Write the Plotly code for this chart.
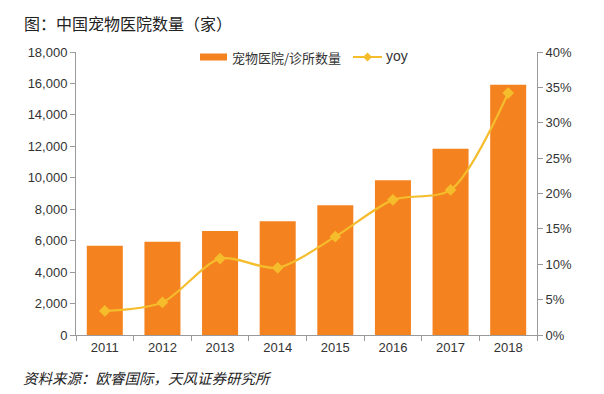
import plotly.graph_objects as go

years = ["2011", "2012", "2013", "2014", "2015", "2016", "2017", "2018"]
hospitals = [5680, 5930, 6610, 7230, 8250, 9840, 11850, 15920]
yoy = [0.034, 0.046, 0.108, 0.095, 0.139, 0.191, 0.205, 0.342]

font_family = "Liberation Sans, Arial, Noto Sans CJK SC, sans-serif"
cjk = "Noto Sans CJK SC, sans-serif"
axis_color = "#9a9a9a"
text_color = "#333333"
bar_color = "#F4821F"
line_color = "#F5BC2C"

W, H = 596, 386
L, R, T, B = 68, 67, 44, 59
PW, PH = W - L - R, H - T - B


def px(x):
    return (x - L) / PW


def py(y):
    return (H - B - y) / PH


fig = go.Figure()
fig.add_trace(go.Bar(
    x=years, y=hospitals, name="宠物医院/诊所数量",
    marker=dict(color=bar_color, line=dict(width=0)),
))
fig.add_trace(go.Scatter(
    x=years, y=yoy, name="yoy", yaxis="y2", mode="lines+markers",
    line=dict(color=line_color, width=2.2, shape="spline", smoothing=0.8),
    marker=dict(symbol="diamond", size=9, color=line_color),
))

# custom legend (positions in pixels converted to paper coords)
ly = 49
shapes = [
    dict(type="rect", xref="paper", yref="paper", x0=px(192), x1=px(219),
         y0=py(ly + 3.5), y1=py(ly - 3.5), fillcolor=bar_color, line=dict(width=0)),
    dict(type="line", xref="paper", yref="paper", x0=px(345), x1=px(374),
         y0=py(ly), y1=py(ly), line=dict(color=line_color, width=2)),
    dict(type="path", xref="paper", yref="paper",
         path=f"M {px(359.5)} {py(ly-4.5)} L {px(364)} {py(ly)} L {px(359.5)} {py(ly+4.5)} L {px(355)} {py(ly)} Z",
         fillcolor=line_color, line=dict(width=0)),
]

fig.update_layout(
    width=W, height=H,
    margin=dict(l=L, r=R, t=T, b=B),
    paper_bgcolor="white", plot_bgcolor="white",
    font=dict(family=font_family, size=13, color=text_color),
    bargap=0.375,
    showlegend=False,
    shapes=shapes,
    xaxis=dict(
        type="category", showline=True, linecolor=axis_color, linewidth=1,
        ticks="outside", tickson="boundaries", tickcolor=axis_color, ticklen=5,
        showgrid=False, zeroline=False, automargin=False,
        tickfont=dict(size=13, color=text_color),
    ),
    yaxis=dict(
        range=[0, 18000], dtick=2000, tickformat=",d",
        showline=True, linecolor=axis_color, linewidth=1,
        ticks="outside", tickcolor=axis_color, ticklen=5,
        showgrid=False, zeroline=False, automargin=False,
        tickfont=dict(size=13, color=text_color),
    ),
    yaxis2=dict(
        overlaying="y", side="right", range=[0, 0.40], dtick=0.05, tickformat=".0%",
        showline=True, linecolor=axis_color, linewidth=1,
        ticks="outside", tickcolor=axis_color, ticklen=5,
        showgrid=False, zeroline=False, automargin=False,
        tickfont=dict(size=13, color=text_color),
    ),
    annotations=[
        dict(text="图：中国宠物医院数量（家）", xref="paper", yref="paper",
             x=px(14), y=py(15), xanchor="left", yanchor="middle", showarrow=False,
             font=dict(size=16, family=cjk, color="#222222")),
        dict(text="宠物医院/诊所数量", xref="paper", yref="paper",
             x=px(222), y=py(ly), xanchor="left", yanchor="middle", showarrow=False,
             font=dict(size=13, family=cjk, color=text_color)),
        dict(text="yoy", xref="paper", yref="paper",
             x=px(376), y=py(ly - 1), xanchor="left", yanchor="middle", showarrow=False,
             font=dict(size=14, family=font_family, color=text_color)),
        dict(text="<i>资料来源：欧睿国际，天风证券研究所</i>", xref="paper", yref="paper",
             x=px(13), y=py(369), xanchor="left", yanchor="middle", showarrow=False,
             font=dict(size=14.5, family=cjk, color="#222222")),
    ],
)

fig.write_html("out.html")
